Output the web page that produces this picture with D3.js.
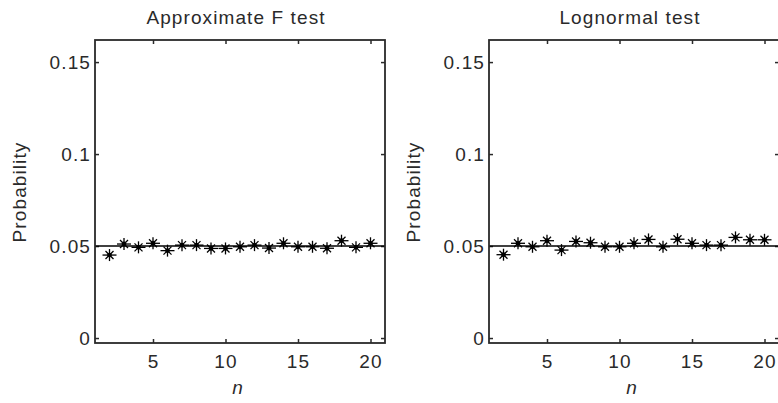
<!DOCTYPE html>
<html><head><meta charset="utf-8">
<script src="https://cdn.jsdelivr.net/npm/d3@7"></script>
<style>
body{margin:0;background:#fff;}
svg{display:block;}
text{font-family:"Liberation Sans",Arial,sans-serif;fill:#2a2a2a;letter-spacing:1.1px;}
</style></head>
<body>
<script>
const nValues = [2,3,4,5,6,7,8,9,10,11,12,13,14,15,16,17,18,19,20];
const approxF = [0.0451,0.0511,0.0493,0.0515,0.0475,0.0505,0.0505,0.0487,0.0487,0.0496,0.0505,0.0489,0.0515,0.0496,0.0496,0.0488,0.0529,0.0493,0.0515];
const lognormal = [0.0453,0.0515,0.0496,0.0529,0.0478,0.0525,0.0518,0.0496,0.0496,0.0515,0.0536,0.0496,0.0537,0.0515,0.0505,0.0505,0.0547,0.0534,0.0534];
const titles = ["Approximate F test","Lognormal test"];
const xTicks = [5,10,15,20];
const yTicks = [0,0.05,0.1,0.15];
const yTickLabels = ["0","0.05","0.1","0.15"];
const refLevel = 0.05;

const W=778,H=403;
const svg=d3.select("body").append("svg").attr("width",W).attr("height",H);
const panels=[{left:95,data:approxF,title:titles[0]},{left:489,data:lognormal,title:titles[1]}];
const pw=290, plotTop=40, plotBottom=343;
const fs=19;
const ink="#2a2a2a";

panels.forEach(p=>{
  const x=d3.scaleLinear().domain([1,21]).range([p.left,p.left+pw]);
  const y=d3.scaleLinear().domain([-0.0027,0.162]).range([plotBottom,plotTop]);
  const g=svg.append("g");
  const ax=g.append("g").attr("transform",`translate(0,${plotBottom})`)
    .call(d3.axisBottom(x).tickValues(xTicks).tickFormat(d3.format("d")).tickSizeInner(-4).tickSizeOuter(0).tickPadding(12));
  const axT=g.append("g").attr("transform",`translate(0,${plotTop})`)
    .call(d3.axisTop(x).tickValues(xTicks).tickFormat("").tickSizeInner(-4).tickSizeOuter(0));
  const ay=g.append("g").attr("transform",`translate(${p.left},0)`)
    .call(d3.axisLeft(y).tickValues(yTicks).tickFormat((d,i)=>yTickLabels[i]).tickSizeInner(-4).tickSizeOuter(0).tickPadding(4));
  const ayR=g.append("g").attr("transform",`translate(${p.left+pw},0)`)
    .call(d3.axisRight(y).tickValues(yTicks).tickFormat("").tickSizeInner(-4).tickSizeOuter(0));
  [ax,axT,ay,ayR].forEach(a=>{
    a.select(".domain").remove();
    a.selectAll("line").attr("stroke",ink).attr("stroke-width",1.5);
    a.selectAll("text").attr("font-size",fs).attr("fill",ink).style("font-family","'Liberation Sans',Arial,sans-serif");
  });
  g.append("line").attr("x1",x(1)).attr("x2",x(21)).attr("y1",y(refLevel)).attr("y2",y(refLevel))
    .attr("stroke","#000").attr("stroke-width",1.5);
  g.append("rect").attr("x",p.left).attr("y",plotTop).attr("width",pw).attr("height",plotBottom-plotTop)
    .attr("fill","none").attr("stroke",ink).attr("stroke-width",1.8);
  const mk=g.selectAll("g.mk").data(nValues.map((n,i)=>({n,v:p.data[i]}))).enter().append("g")
    .attr("transform",d=>`translate(${x(d.n)},${y(d.v)})`);
  const segs=[[-7,0,7,0],[0,-6,0,6],[-4,-4,4,4],[-4,4,4,-4]];
  segs.forEach(s=>{
    mk.append("line").attr("x1",s[0]).attr("y1",s[1]).attr("x2",s[2]).attr("y2",s[3])
      .attr("stroke","#000").attr("stroke-width",1.3);
  });
  mk.append("circle").attr("r",2.4).attr("fill","#000");
  g.append("text").attr("x",p.left+pw/2-4).attr("y",24).attr("text-anchor","middle")
    .attr("font-size",fs).text(p.title);
  g.append("text").attr("x",p.left+pw/2-2).attr("y",394).attr("text-anchor","middle")
    .attr("font-size",fs).attr("font-style","italic").text("n");
  g.append("text").attr("transform",`translate(${p.left-69},192) rotate(-90)`).attr("text-anchor","middle")
    .attr("font-size",fs).text("Probability");
});
</script>
</body></html>
